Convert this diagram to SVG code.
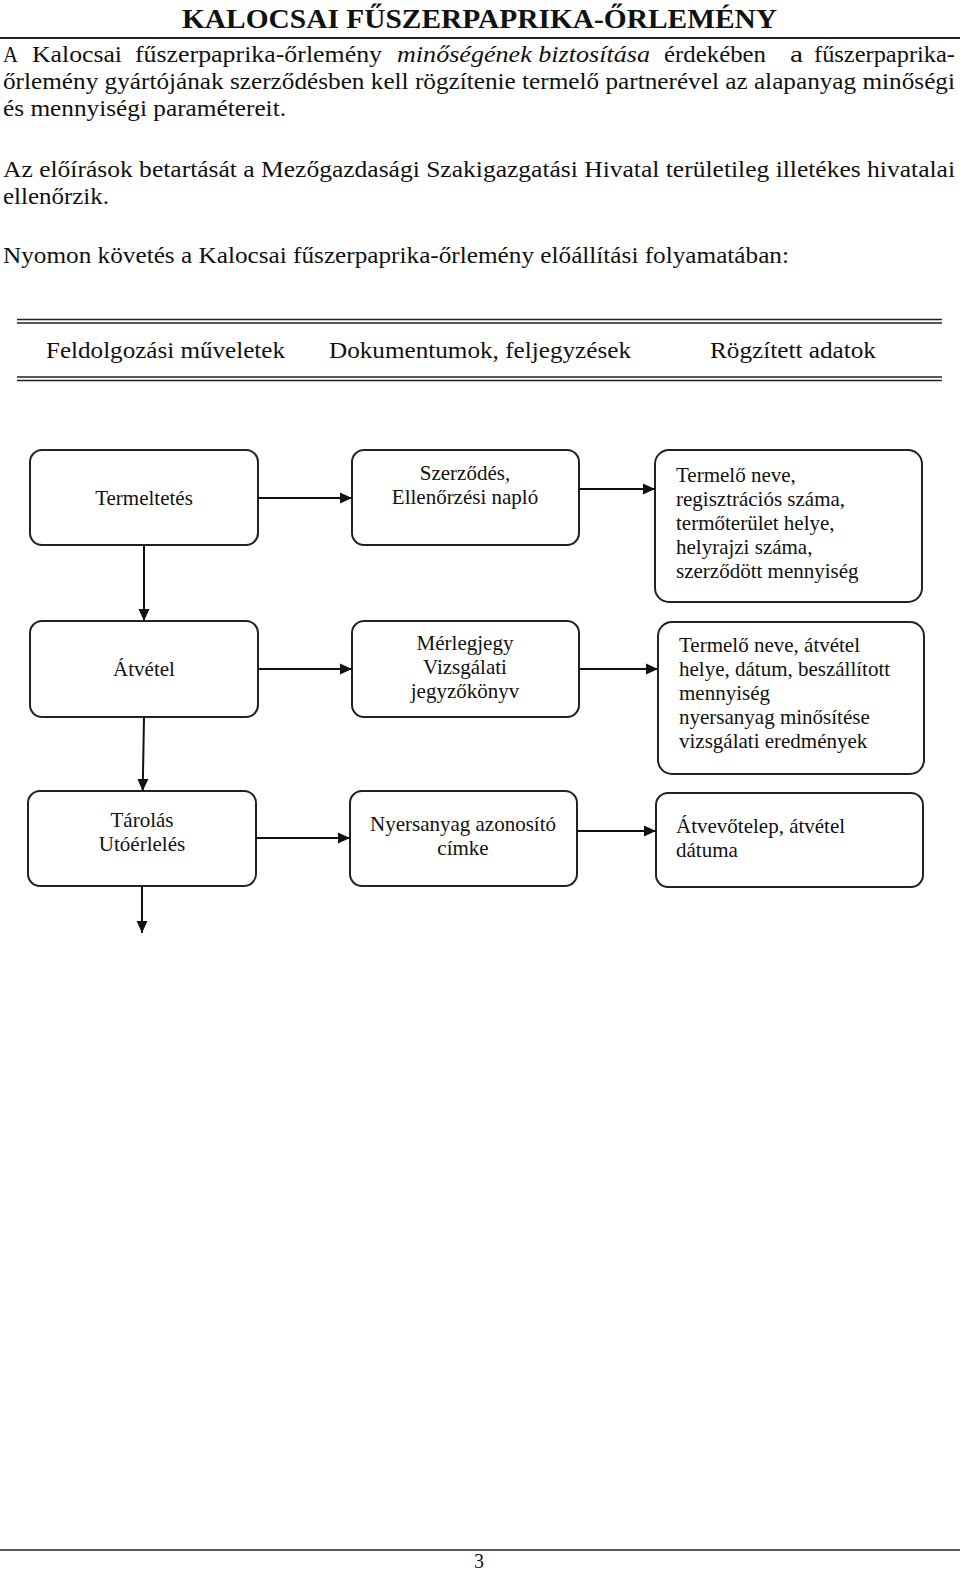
<svg xmlns="http://www.w3.org/2000/svg" width="960" height="1573" viewBox="0 0 960 1573">
<defs>
<style>
text { font-family: "Liberation Serif", "Times New Roman", serif; fill: #111; }
.title { font-size: 28px; font-weight: bold; }
.body { font-size: 23px; }
.it { font-style: italic; }
.node rect { fill: #fff; stroke: #222; stroke-width: 2; }
.node text { font-size: 21px; }
.c { text-anchor: middle; }
.rule { stroke: #222; fill: none; }
.conn line { stroke: #111; stroke-width: 2; fill: none; marker-end: url(#ah); }
</style>
<marker id="ah" viewBox="0 0 12 12" refX="12" refY="6" markerWidth="12" markerHeight="12" markerUnits="userSpaceOnUse" orient="auto">
<path d="M0,0.5 L12,6 L0,11.5 z" fill="#111"/>
</marker>
</defs>
<rect width="960" height="1573" fill="#fff"/>

<text class="title" x="182" y="28" textLength="595" lengthAdjust="spacingAndGlyphs">KALOCSAI FŰSZERPAPRIKA-ŐRLEMÉNY</text>
<line class="rule" x1="0" y1="38" x2="960" y2="38" stroke-width="2"/>

<g id="intro">
<text class="body" x="3" y="62" textLength="15" lengthAdjust="spacingAndGlyphs">A</text>
<text class="body" x="32" y="62" textLength="90" lengthAdjust="spacingAndGlyphs">Kalocsai</text>
<text class="body" x="135" y="62" textLength="247" lengthAdjust="spacingAndGlyphs">fűszerpaprika-őrlemény</text>
<text class="body it" x="397" y="62" textLength="253" lengthAdjust="spacingAndGlyphs">minőségének biztosítása</text>
<text class="body" x="664" y="62" textLength="102" lengthAdjust="spacingAndGlyphs">érdekében</text>
<text class="body" x="790" y="62" textLength="13" lengthAdjust="spacingAndGlyphs">a</text>
<text class="body" x="814" y="62" textLength="141" lengthAdjust="spacingAndGlyphs">fűszerpaprika-</text>
<text class="body" x="3" y="89" textLength="952" lengthAdjust="spacingAndGlyphs">őrlemény gyártójának szerződésben kell rögzítenie termelő partnerével az alapanyag minőségi</text>
<text class="body" x="3" y="116" textLength="283" lengthAdjust="spacingAndGlyphs">és mennyiségi paramétereit.</text>
<text class="body" x="3" y="177" textLength="952" lengthAdjust="spacingAndGlyphs">Az előírások betartását a Mezőgazdasági Szakigazgatási Hivatal területileg illetékes hivatalai</text>
<text class="body" x="3" y="204" textLength="106" lengthAdjust="spacingAndGlyphs">ellenőrzik.</text>
<text class="body" x="3" y="263" textLength="786" lengthAdjust="spacingAndGlyphs">Nyomon követés a Kalocsai fűszerpaprika-őrlemény előállítási folyamatában:</text>
</g>

<g id="header">
<line class="rule" x1="17" y1="319.5" x2="942" y2="319.5" stroke-width="1.6" stroke="#444"/>
<line class="rule" x1="17" y1="323" x2="942" y2="323" stroke-width="1.6" stroke="#444"/>
<text class="body" x="46" y="358" textLength="239" lengthAdjust="spacingAndGlyphs">Feldolgozási műveletek</text>
<text class="body" x="329" y="358" textLength="302" lengthAdjust="spacingAndGlyphs">Dokumentumok, feljegyzések</text>
<text class="body" x="710" y="358" textLength="166" lengthAdjust="spacingAndGlyphs">Rögzített adatok</text>
<line class="rule" x1="17" y1="377" x2="942" y2="377" stroke-width="1.6" stroke="#444"/>
<line class="rule" x1="17" y1="380.5" x2="942" y2="380.5" stroke-width="1.6" stroke="#444"/>
</g>

<g id="termeltetes" class="node">
<rect x="30" y="450" width="228" height="95" rx="12"/>
<text class="c" x="144" y="505">Termeltetés</text>
</g>
<g id="szerzodes" class="node">
<rect x="352" y="450" width="227" height="95" rx="12"/>
<text class="c" x="465" y="480">Szerződés,</text>
<text class="c" x="465" y="504">Ellenőrzési napló</text>
</g>
<g id="adat1" class="node">
<rect x="655" y="450" width="267" height="152" rx="14"/>
<text x="676" y="482">Termelő neve,</text>
<text x="676" y="506">regisztrációs száma,</text>
<text x="676" y="530">termőterület helye,</text>
<text x="676" y="554">helyrajzi száma,</text>
<text x="676" y="578">szerződött mennyiség</text>
</g>

<g id="atvetel" class="node">
<rect x="30" y="621" width="228" height="96" rx="12"/>
<text class="c" x="144" y="676">Átvétel</text>
</g>
<g id="merlegjegy" class="node">
<rect x="352" y="621" width="227" height="96" rx="12"/>
<text class="c" x="465" y="650">Mérlegjegy</text>
<text class="c" x="465" y="674">Vizsgálati</text>
<text class="c" x="465" y="698">jegyzőkönyv</text>
</g>
<g id="adat2" class="node">
<rect x="658" y="622" width="266" height="152" rx="14"/>
<text x="679" y="652">Termelő neve, átvétel</text>
<text x="679" y="676">helye, dátum, beszállított</text>
<text x="679" y="700">mennyiség</text>
<text x="679" y="724">nyersanyag minősítése</text>
<text x="679" y="748">vizsgálati eredmények</text>
</g>

<g id="tarolas" class="node">
<rect x="28" y="791" width="228" height="95" rx="12"/>
<text class="c" x="142" y="827">Tárolás</text>
<text class="c" x="142" y="851">Utóérlelés</text>
</g>
<g id="cimke" class="node">
<rect x="350" y="791" width="227" height="95" rx="12"/>
<text class="c" x="463" y="831">Nyersanyag azonosító</text>
<text class="c" x="463" y="855">címke</text>
</g>
<g id="adat3" class="node">
<rect x="656" y="793" width="267" height="94" rx="12"/>
<text x="676" y="833">Átvevőtelep, átvétel</text>
<text x="676" y="857">dátuma</text>
</g>

<g id="connectors" class="conn">
<line x1="258" y1="498" x2="352" y2="498"/>
<line x1="579" y1="489" x2="655" y2="489"/>
<line x1="144" y1="545" x2="144" y2="621"/>
<line x1="258" y1="669" x2="352" y2="669"/>
<line x1="579" y1="669" x2="658" y2="669"/>
<line x1="144" y1="717" x2="142.7" y2="791"/>
<line x1="256" y1="838" x2="350" y2="838"/>
<line x1="577" y1="831" x2="656" y2="831"/>
<line x1="142" y1="886" x2="142" y2="933"/>
</g>

<line class="rule" x1="0" y1="1550" x2="960" y2="1550" stroke-width="1.6"/>
<text x="479" y="1568" class="c" font-size="20">3</text>
</svg>
